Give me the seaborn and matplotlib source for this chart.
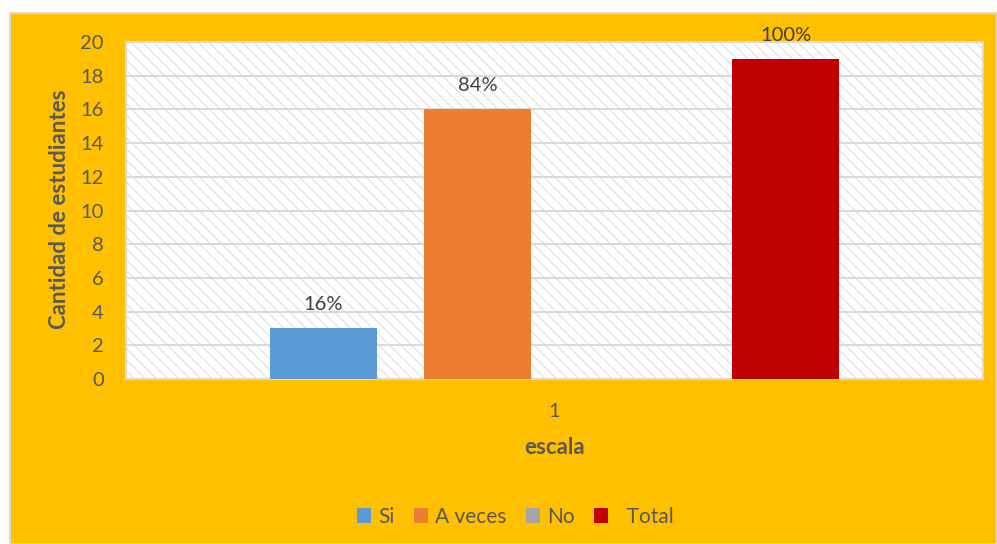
import matplotlib
matplotlib.use("Agg")
import matplotlib.pyplot as plt
from matplotlib.patches import Rectangle, Patch
import seaborn as sns
import pandas as pd

# Survey answers on one scale item
escala = ["1", "1", "1", "1"]
respuestas = ["Si", "A veces", "No", "Total"]
cantidades = [3, 16, 0, 19]
colores = ["#5B9BD5", "#ED7D31", "#A5A5A5", "#C00000"]
yticks = [0, 2, 4, 6, 8, 10, 12, 14, 16, 18, 20]

df = pd.DataFrame({"escala": escala, "respuesta": respuestas, "cantidad": cantidades})

sns.set_theme(style="white")
plt.rcParams["font.family"] = ["Lato", "DejaVu Sans"]
plt.rcParams["hatch.linewidth"] = 0.9
TXT = "#595959"
GRID = "#D9D9D9"

fig = plt.figure(figsize=(9.97, 5.44), dpi=100)
fig.patch.set_facecolor("white")

# Chart area background
fig.patches.append(Rectangle((9.5 / 997, 0), 1 - 9.5 / 997, (544 - 12.5) / 544,
                             transform=fig.transFigure, facecolor="#FFC000",
                             edgecolor="#D9D9D9", linewidth=1.5, zorder=-1))

ax = fig.add_axes([126 / 997, 1 - 379 / 544, (983 - 126) / 997, (379 - 42) / 544])
ax.set_zorder(1)
ax.set_facecolor("white")

# Diagonal pattern fill of the plot area
ax.add_patch(Rectangle((0, 0), 1, 1, transform=ax.transAxes, fill=False,
                       hatch="\\\\\\", edgecolor="#E2E2E2", linewidth=0, zorder=0))

sns.barplot(data=df, x="escala", y="cantidad", hue="respuesta",
            hue_order=respuestas, palette=colores, width=0.719, gap=0.3,
            saturation=1, legend=False, ax=ax, zorder=3, linewidth=0,
            edgecolor="none")

ax.set_xlim(-0.5, 0.5)
ax.set_ylim(0, 20)
ax.set_yticks(yticks)
ax.yaxis.grid(True, color=GRID, linewidth=1.4, zorder=1)
ax.set_axisbelow(True)
for s in ax.spines.values():
    s.set_color(GRID)
    s.set_linewidth(1.5)
ax.tick_params(axis="both", length=0, labelsize=14.5, colors=TXT)
ax.tick_params(axis="y", pad=16)
ax.tick_params(axis="x", pad=17)
ax.set_xlabel("")
ax.set_ylabel("")

total = cantidades[respuestas.index("Total")]
for cont, v in zip(ax.containers, cantidades):
    if v == 0:
        continue
    ax.bar_label(cont, labels=[f"{round(v / total * 100)}%"], padding=11,
                 fontsize=14.5, color="#404040")

fig.text(60 / 997, 1 - 209 / 544, "Cantidad de estudiantes", rotation=90,
         ha="center", va="center", fontsize=16, fontweight="bold", color=TXT)
fig.text(555 / 997, 1 - 447 / 544, "escala", ha="center", va="center",
         fontsize=16, fontweight="bold", color=TXT)

handles = [Patch(facecolor=c, edgecolor="none") for c in colores]
leg_labels = ["Si", "A veces", "No", "  Total"]
leg = fig.legend(handles, leg_labels, loc="center", bbox_to_anchor=(515 / 997, 1 - 517 / 544),
                 ncol=4, frameon=False, fontsize=15, handlelength=0.7, handleheight=0.7,
                 handletextpad=0.35, columnspacing=0.9, labelcolor=TXT)

fig.savefig("out.png", dpi=100, facecolor=fig.get_facecolor())
